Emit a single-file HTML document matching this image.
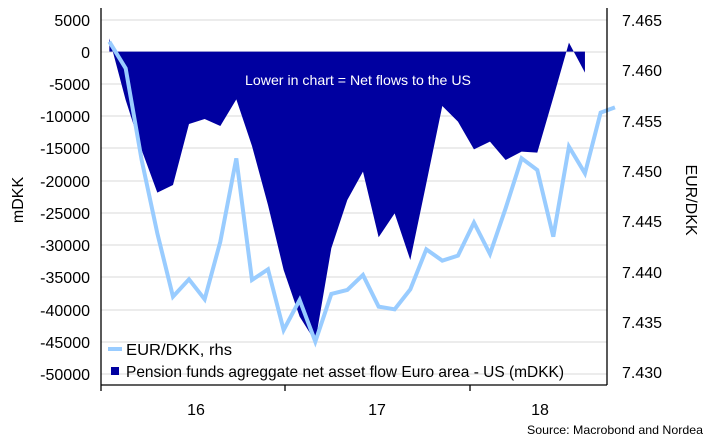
<!DOCTYPE html><html><head><style>body{margin:0;background:#fff}svg{display:block;font-family:"Liberation Sans",sans-serif}</style></head><body>
<svg width="710" height="448" viewBox="0 0 710 448">
<g stroke="#e6e6e6" stroke-width="1.5">
<line x1="101" x2="607" y1="20" y2="20"/><line x1="101" x2="607" y1="52" y2="52"/><line x1="101" x2="607" y1="84" y2="84"/><line x1="101" x2="607" y1="116" y2="116"/><line x1="101" x2="607" y1="148" y2="148"/><line x1="101" x2="607" y1="181" y2="181"/><line x1="101" x2="607" y1="213" y2="213"/><line x1="101" x2="607" y1="245" y2="245"/><line x1="101" x2="607" y1="277" y2="277"/><line x1="101" x2="607" y1="310" y2="310"/><line x1="101" x2="607" y1="342" y2="342"/><line x1="101" x2="607" y1="374" y2="374"/>
</g>
<g transform="translate(95,20) scale(0.3333)">
<polygon fill="#0000a0" points="43,95 43,55 92,240 140,390 187,518 234,495 282,312 329,297 376,318 424,238 471,378 519,555 566,750 614,890 661,965 709,685 757,540 804,455 851,652 899,580 946,720 994,490 1042,258 1089,305 1137,388 1185,365 1232,420 1280,395 1327,398 1375,233 1422,68 1470,158 1470,95"/>
<polyline fill="none" stroke="#99ccff" stroke-width="12" stroke-linejoin="miter" points="43,65 92,145 140,420 187,640 234,830 282,778 329,838 376,665 424,415 471,780 519,748 566,930 614,840 661,965 709,822 757,810 804,765 851,860 899,868 946,808 994,688 1042,722 1089,707 1137,608 1185,702 1232,565 1280,415 1327,450 1375,650 1422,380 1470,460 1517,278 1560,262"/>
</g>
<text x="358" y="85" fill="#fff" font-size="14" text-anchor="middle" textLength="226" lengthAdjust="spacingAndGlyphs">Lower in chart = Net flows to the US</text>
<g stroke="#000" stroke-width="1.3" fill="none">
<line x1="101" y1="8" x2="101" y2="385"/><line x1="607" y1="8" x2="607" y2="385"/><line x1="101" y1="385" x2="607" y2="385"/>
<line x1="101" y1="385" x2="101" y2="391"/><line x1="285" y1="385" x2="285" y2="391"/><line x1="470" y1="385" x2="470" y2="391"/>
</g>
<g font-size="16" text-anchor="end" fill="#000">
<text x="90" y="26">5000</text><text x="90" y="58">0</text><text x="90" y="90">-5000</text><text x="90" y="122">-10000</text><text x="90" y="154">-15000</text><text x="90" y="187">-20000</text><text x="90" y="219">-25000</text><text x="90" y="251">-30000</text><text x="90" y="283">-35000</text><text x="90" y="316">-40000</text><text x="90" y="348">-45000</text><text x="90" y="380">-50000</text>
</g>
<g font-size="16" fill="#000">
<text x="622" y="26">7.465</text><text x="622" y="76">7.460</text><text x="622" y="127">7.455</text><text x="622" y="177">7.450</text><text x="622" y="227">7.445</text><text x="622" y="278">7.440</text><text x="622" y="328">7.435</text><text x="622" y="378">7.430</text>
</g>
<text transform="translate(23,200) rotate(-90)" font-size="16" text-anchor="middle">mDKK</text>
<text transform="translate(686,200) rotate(90)" font-size="16" text-anchor="middle">EUR/DKK</text>
<g font-size="16" text-anchor="middle"><text x="196" y="415">16</text><text x="377" y="415">17</text><text x="540" y="415">18</text></g>
<rect x="108" y="347" width="14" height="4" fill="#99ccff"/>
<text x="126" y="355" font-size="16" textLength="106" lengthAdjust="spacingAndGlyphs">EUR/DKK, rhs</text>
<rect x="111" y="367" width="8" height="8" fill="#0000a0"/>
<text x="126" y="377" font-size="16" textLength="438" lengthAdjust="spacingAndGlyphs">Pension funds agreggate net asset flow Euro area - US (mDKK)</text>
<text x="703" y="434" font-size="12" text-anchor="end" textLength="176" lengthAdjust="spacingAndGlyphs">Source: Macrobond and Nordea</text>
</svg></body></html>
